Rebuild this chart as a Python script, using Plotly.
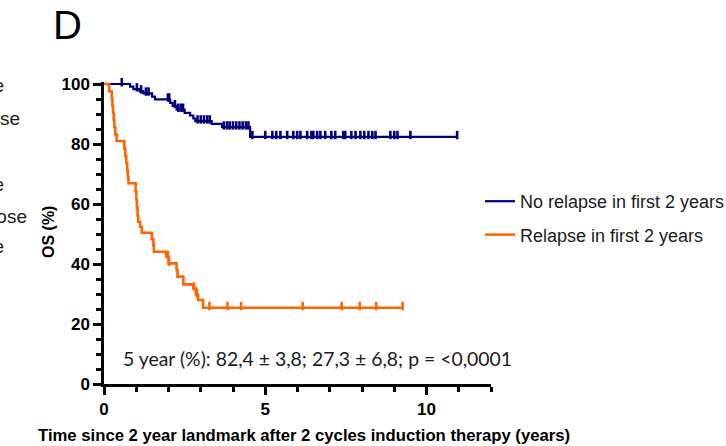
import numpy as np
import plotly.graph_objects as go

# ---------------- data ----------------
# No relapse in first 2 years: event times (years) and survival (%) after each event
blue_event_t = [0.81, 0.91, 1.10, 1.22, 1.49, 1.58, 2.05, 2.13, 2.25, 2.50, 2.67, 2.77, 2.83, 3.34, 3.66, 4.53]
blue_surv = [99.1, 98.3, 97.6, 96.9, 95.8, 94.9, 93.7, 92.7, 91.5, 90.4, 89.5, 88.5, 87.6, 86.7, 85.6, 82.4]
blue_censor_t = [0.55, 1.02, 1.15, 1.30, 1.38, 1.98, 2.02, 2.20, 2.30, 2.38, 2.45, 2.90, 3.00, 3.10, 3.20, 3.28,
                 3.72, 3.82, 3.90, 4.00, 4.10, 4.20, 4.30, 4.40, 4.48, 4.60, 5.00, 5.22, 5.34, 5.47, 5.68,
                 5.87, 5.99, 6.09, 6.30, 6.43, 6.49, 6.61, 6.71, 6.86, 7.05, 7.17, 7.42, 7.48, 7.67, 7.80,
                 7.95, 8.07, 8.20, 8.32, 8.42, 8.88, 9.00, 9.10, 9.50, 10.95]
blue_end = 10.95

# Relapse in first 2 years
orange_event_t = [0.16, 0.24, 0.26, 0.28, 0.30, 0.32, 0.35, 0.39, 0.63, 0.66, 0.69, 0.72, 0.74, 0.76,
                  0.98, 1.00, 1.02, 1.04, 1.06, 1.12, 1.17, 1.48, 1.53, 1.55, 1.93, 2.00, 2.25, 2.28,
                  2.46, 2.77, 2.85, 2.92, 3.07]
orange_surv = [97.6, 95.2, 92.8, 90.4, 88.0, 85.6, 83.2, 81.0, 78.5, 76.0, 73.6, 71.2, 68.8, 66.9,
               64.2, 61.5, 58.8, 56.1, 54.1, 52.4, 50.4, 48.3, 46.2, 44.1, 42.4, 40.2, 38.0, 35.8,
               33.2, 31.9, 29.7, 28.0, 25.4]
orange_censor_t = [1.98, 2.02, 2.79, 2.88, 3.27, 3.83, 4.25, 6.16, 7.37, 7.93, 8.44, 9.26]
orange_end = 9.26

series_names = ["No relapse in first 2 years", "Relapse in first 2 years"]
x_ticks = [0, 5, 10]
y_ticks = [0, 20, 40, 60, 80, 100]
stats_text = "5 year (%): 82,4 \u00b1 3,8; 27,3 \u00b1 6,8; p = <0,0001"
x_title = "Time since 2 year landmark after 2 cycles induction therapy (years)"
y_title = "OS (%)"
panel_label = "D"
left_fragments = ["e", "se", "e", "ose", "e"]

# ---------------- layout geometry ----------------
W, H = 726, 446
L, R, T, B = 104, 235, 82, 62
PW, PH = W - L - R, H - T - B


def pxx(x):
    return (x - L) / PW


def pxy(y):
    return (H - B - y) / PH


BLUE = "#00007F"
ORANGE = "#FF6600"
TXT = "#1a1a1a"
AX_FONT = "Liberation Sans, Arial, sans-serif"


def step_xy(ev_t, surv, end):
    xs = [0.0] + list(ev_t) + [end]
    ys = [100.0] + list(surv) + [surv[-1]]
    return xs, ys


def censor_y(ev_t, surv, cens):
    ev = np.array(ev_t)
    sv = np.array([100.0] + list(surv))
    idx = np.searchsorted(ev, np.array(cens), side="right")
    return sv[idx]


fig = go.Figure()
tick_lift = 0.6  # censor ticks sit on top of the line

for name, ev, sv, cens, end, col, lw in [
    (series_names[0], blue_event_t, blue_surv, blue_censor_t, blue_end, BLUE, 2.2),
    (series_names[1], orange_event_t, orange_surv, orange_censor_t, orange_end, ORANGE, 2.6),
]:
    xs, ys = step_xy(ev, sv, end)
    fig.add_trace(go.Scatter(
        x=xs, y=ys, mode="lines", line=dict(color=col, width=lw, shape="hv"),
        name=name, legendgroup=name, showlegend=True, hoverinfo="skip",
    ))
    cy = censor_y(ev, sv, cens) + tick_lift
    fig.add_trace(go.Scatter(
        x=cens, y=cy, mode="markers",
        marker=dict(symbol="line-ns", size=6, line=dict(color=col, width=2.6), color=col),
        name=name, legendgroup=name, showlegend=False, cliponaxis=False, hoverinfo="skip",
    ))

fig.update_layout(
    width=W, height=H,
    margin=dict(l=L, r=R, t=T, b=B, pad=0, autoexpand=False),
    paper_bgcolor="white", plot_bgcolor="white",
    showlegend=True,
    legend=dict(
        x=pxx(480), y=pxy(183), xanchor="left", yanchor="top",
        font=dict(family=AX_FONT, size=18, color=TXT),
        bgcolor="rgba(0,0,0,0)", tracegroupgap=7, itemwidth=30,
        traceorder="grouped",
    ),
    xaxis=dict(
        range=[0, 12], tickvals=x_ticks, ticktext=[str(v) for v in x_ticks],
        showgrid=False, zeroline=False, showline=True, linecolor="black", linewidth=2.5,
        ticks="outside", ticklen=8, tickwidth=2.5, tickcolor="black",
        tickfont=dict(family=AX_FONT, size=17, color="black", weight="bold"),
        minor=dict(dtick=1, ticks="outside", ticklen=5, tickwidth=2.5, tickcolor="black", showgrid=False),
        fixedrange=True,
    ),
    yaxis=dict(
        range=[0, 100.67], tickvals=y_ticks, ticktext=[str(v) for v in y_ticks],
        showgrid=False, zeroline=False, showline=True, linecolor="black", linewidth=2.5,
        ticks="outside", ticklen=8, tickwidth=2.5, tickcolor="black",
        tickfont=dict(family=AX_FONT, size=17, color="black", weight="bold"),
        minor=dict(dtick=5, tick0=0, ticks="outside", ticklen=5, tickwidth=2.5, tickcolor="black", showgrid=False),
        fixedrange=True,
    ),
)

ann = []
# stats text
ann.append(dict(x=pxx(121), y=pxy(358), xref="paper", yref="paper", xanchor="left", yanchor="middle",
                text=stats_text, showarrow=False, font=dict(family="Lato, sans-serif", size=19.4, color=TXT)))
# axis titles
ann.append(dict(x=pxx(304), y=pxy(435), xref="paper", yref="paper", xanchor="center", yanchor="middle",
                text=x_title, showarrow=False, font=dict(family=AX_FONT, size=16.7, color="black", weight="bold")))
ann.append(dict(x=pxx(48), y=pxy(232), xref="paper", yref="paper", xanchor="center", yanchor="middle",
                text=y_title, textangle=-90, showarrow=False,
                font=dict(family=AX_FONT, size=16, color="black", weight="bold")))
# panel label
ann.append(dict(x=pxx(67), y=pxy(25), xref="paper", yref="paper", xanchor="center", yanchor="middle",
                text=panel_label, showarrow=False, font=dict(family=AX_FONT, size=40, color="black")))
# cropped fragments of the neighbouring panel (clipped at the left edge, as in the source figure)
frag_pos = [(5, 86), (21, 118), (5, 184), (28, 216), (5, 246)]
for txt, (fx, fy) in zip(left_fragments, frag_pos):
    ann.append(dict(x=pxx(fx), y=pxy(fy), xref="paper", yref="paper", xanchor="right", yanchor="middle",
                    text=txt, showarrow=False, width=fx, align="right", borderpad=0,
                    font=dict(family=AX_FONT, size=19, color=TXT)))
fig.update_layout(annotations=ann)

fig.write_html("out.html", config={"displayModeBar": False},
               post_script="document.body.style.margin='0';document.body.style.overflow='hidden';")
